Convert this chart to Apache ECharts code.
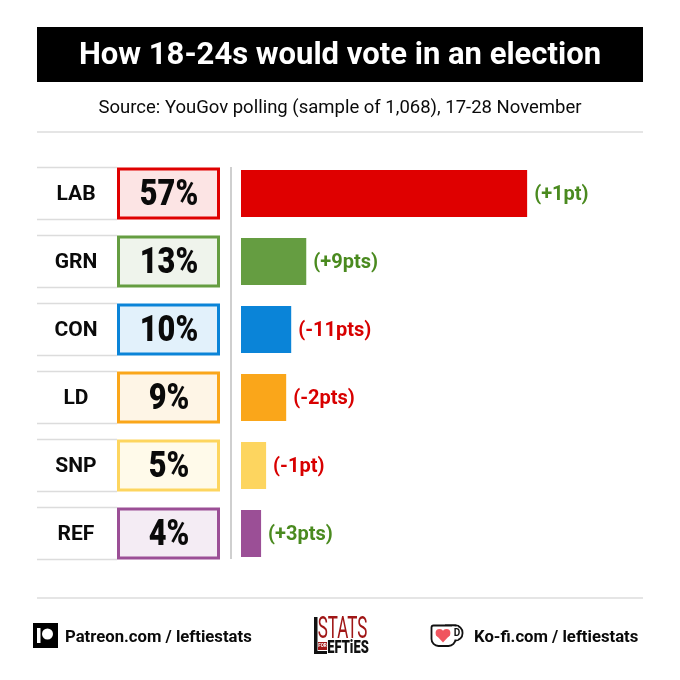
<!DOCTYPE html>
<html><head><meta charset="utf-8">
<style>html,body{margin:0;padding:0;background:#fff}#c{width:680px;height:680px}</style>
<script src="https://cdn.jsdelivr.net/npm/echarts@6/dist/echarts.min.js"></script>
</head><body><div id="c"></div>
<script>
const parties = ['LAB','GRN','CON','LD','SNP','REF'];
const shares = [57,13,10,9,5,4];
const changes = ['(+1pt)','(+9pts)','(-11pts)','(-2pts)','(-1pt)','(+3pts)'];
const changeColours = ['#4a8a1f','#4a8a1f','#d80000','#d80000','#d80000','#4a8a1f'];
const barColours = ['#df0000','#659d41','#0a84d8','#faa61a','#fdd55f','#9b4f96'];
const boxFills = ['#fce4e4','#eff4ec','#e2f1fb','#fef5e6','#fffaea','#f4ecf4'];
const titleText = 'How 18-24s would vote in an election';
const sourceText = 'Source: YouGov polling (sample of 1,068), 17-28 November';
const INK = '#0a0a0a', RULE = '#dcdcdc';
const SANS = 'Roboto';

function squeezed(x,y,text,font,fill,scaleX,align){
  return {type:'text',x:x,y:y,scaleX:scaleX,style:{x:0,y:0,text:text,align:align||'center',verticalAlign:'middle',font:font,fill:fill}};
}

const chart = echarts.init(document.getElementById('c'));
chart.setOption({
  animation:false,
  backgroundColor:'#fff',
  grid:{left:241,top:159.5,width:401.6,height:408},
  xAxis:{type:'value',min:0,max:80,show:false},
  yAxis:{type:'category',inverse:true,data:parties,
    axisLine:{show:false},axisTick:{show:false},splitLine:{show:false},axisLabel:{show:false}},
  series:[
    {type:'bar',barWidth:47,silent:true,
     data:shares.map((v,i)=>({value:v,itemStyle:{color:barColours[i]},
       label:{show:true,position:'right',distance:7,offset:[0,1.5],formatter:changes[i],color:changeColours[i],
              fontFamily:SANS,fontWeight:'bold',fontSize:20}}))},
    {type:'custom',silent:true,data:shares.map((v,i)=>[0,i,v]),encode:{x:0,y:1},
     renderItem:(params,api)=>{
       const i=params.dataIndex, p=api.coord([0,i]);
       const x=p[0], y=p[1];
       return {type:'group',children:[
         {type:'line',shape:{x1:x-204,y1:y-26,x2:x-124,y2:y-26},style:{stroke:RULE,lineWidth:1.5}},
         {type:'line',shape:{x1:x-204,y1:y+26,x2:x-124,y2:y+26},style:{stroke:RULE,lineWidth:1.5}},
         {type:'text',style:{x:x-165,y:y+1,text:parties[i],align:'center',verticalAlign:'middle',
            font:'bold 21px '+SANS,fill:INK}},
         {type:'rect',shape:{x:x-122.5,y:y-24.5,width:100,height:49},
          style:{fill:boxFills[i],stroke:barColours[i],lineWidth:3}},
         {type:'text',x:x-72,y:y+2.5,scaleX:0.83,style:{x:0,y:0,text:shares[i]+'%',align:'center',verticalAlign:'middle',
            font:'900 37px '+SANS,fill:INK}}
       ]};
     }}
  ],
  graphic:[
    {type:'rect',shape:{x:37,y:27,width:606,height:55},style:{fill:'#000'}},
    {type:'text',style:{x:340,y:56,text:titleText,align:'center',verticalAlign:'middle',font:'bold 31px '+SANS,fill:'#fff'}},
    {type:'text',style:{x:340,y:108,text:sourceText,align:'center',verticalAlign:'middle',font:'18.5px '+SANS,fill:INK}},
    {type:'line',shape:{x1:37,y1:132,x2:643,y2:132},style:{stroke:RULE,lineWidth:1.5}},
    {type:'line',shape:{x1:231,y1:167,x2:231,y2:559},style:{stroke:'#cfcfcf',lineWidth:2}},
    {type:'line',shape:{x1:37,y1:598,x2:643,y2:598},style:{stroke:RULE,lineWidth:1.5}},
    // Patreon
    {type:'rect',shape:{x:33,y:623,width:25,height:25},style:{fill:'#000'}},
    {type:'rect',shape:{x:37,y:628,width:3.5,height:15},style:{fill:'#fff'}},
    {type:'circle',shape:{cx:47.5,cy:634,r:5.5},style:{fill:'#fff'}},
    {type:'text',style:{x:65,y:637.5,text:'Patreon.com / leftiestats',align:'left',verticalAlign:'middle',font:'bold 16.7px '+SANS,fill:INK}},
    // Logo
    {type:'rect',shape:{x:314,y:617,width:3.5,height:37},style:{fill:'#111'}},
    {type:'rect',shape:{x:314,y:651,width:13,height:3},style:{fill:'#111'}},
    squeezed(342.5,629.5,'STATS','32px '+SANS,'#a01616',0.53),
    {type:'rect',shape:{x:318,y:642,width:9,height:8},style:{fill:'#a01616'}},
    {type:'text',style:{x:322.5,y:646,text:'FOR',align:'center',verticalAlign:'middle',font:'bold 4.5px '+SANS,fill:'#fff'}},
    squeezed(348,648.5,'EFTiES','900 18.5px '+SANS,'#111',0.7),
    // Ko-fi mug
    {type:'rect',shape:{x:445,y:625.5,width:17.5,height:15,r:[0,7,7,0]},style:{fill:'#fff',stroke:'#111',lineWidth:1.8}},
    {type:'rect',shape:{x:431.5,y:625.5,width:24,height:20.5,r:[2,0,7,7]},style:{fill:'#fff',stroke:'#111',lineWidth:1.8}},
    {type:'rect',shape:{x:452,y:626.5,width:6,height:13},style:{fill:'#fff'}},
    {type:'text',style:{x:457,y:633.5,text:'D',align:'center',verticalAlign:'middle',font:'bold 10px '+SANS,fill:'#111'}},
    {type:'circle',shape:{cx:439.5,cy:633,r:3.9},style:{fill:'#f0555f'}},
    {type:'circle',shape:{cx:446.5,cy:633,r:3.9},style:{fill:'#f0555f'}},
    {type:'polygon',shape:{points:[[436,635],[450,635],[443,642.5]]},style:{fill:'#f0555f'}},
    {type:'text',style:{x:474,y:637.5,text:'Ko-fi.com / leftiestats',align:'left',verticalAlign:'middle',font:'bold 16.7px '+SANS,fill:INK}}
  ]
});
</script></body></html>
